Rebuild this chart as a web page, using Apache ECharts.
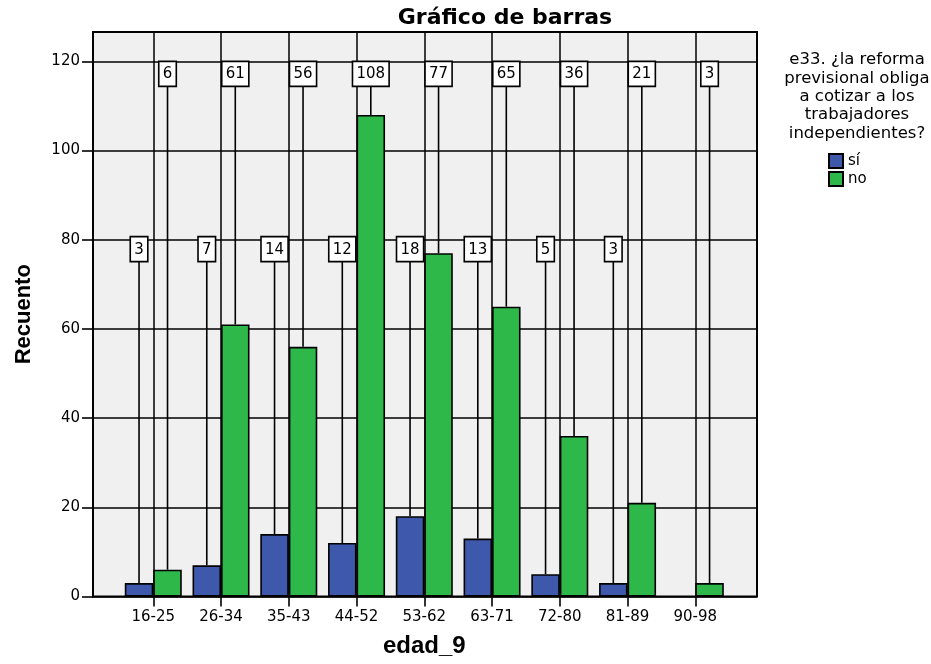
<!DOCTYPE html>
<html><head><meta charset="utf-8">
<script src="https://cdn.jsdelivr.net/npm/echarts@6/dist/echarts.min.js"></script>
<style>html,body{margin:0;padding:0;background:#fff}#c{width:931px;height:664px}</style>
</head><body><div id="c"></div>
<script>
const categories = ['16-25','26-34','35-43','44-52','53-62','63-71','72-80','81-89','90-98'];
const siValues = [3, 7, 14, 12, 18, 13, 5, 3, 0];
const noValues = [6, 61, 56, 108, 77, 65, 36, 21, 3];
const yTicks = [0, 20, 40, 60, 80, 100, 120];
const seriesNames = ['sí', 'no'];
const chartTitle = 'Gráfico de barras';
const legendTitle = 'e33. ¿la reforma\nprevisional obliga\na cotizar a los\ntrabajadores\nindependientes?';
const xName = 'edad_9';
const yName = 'Recuento';

const Y_MAX = 126.6;
const BAR_W = 28.5;
const SI_LABEL_LEVEL = 77.9;
const NO_LABEL_LEVEL = 117.2;
const LABEL_FONT = '15px "DejaVu Sans"';

const measureCtx = document.createElement('canvas').getContext('2d');
measureCtx.font = LABEL_FONT;

function labelRenderer(sign) {
  return function (params, api) {
    const idx = api.value(0), v = api.value(1), lvl = api.value(2);
    const top = api.coord([idx, v]);
    const lab = api.coord([idx, lvl]);
    const x = top[0] + sign * BAR_W / 2;
    const text = String(v);
    const w = measureCtx.measureText(text).width;
    return {
      type: 'group',
      children: [
        { type: 'line', shape: { x1: x, y1: lab[1] + 12.5, x2: x, y2: top[1] },
          style: { stroke: '#000', lineWidth: 1.6 } },
        { type: 'rect', shape: { x: x - w / 2 - 4, y: lab[1] - 12.5, width: w + 8, height: 25 },
          style: { fill: '#fff', stroke: '#000', lineWidth: 1.6 } },
        { type: 'text', style: { text: text, x: x, y: lab[1] + 0.5, align: 'center', verticalAlign: 'middle',
          font: LABEL_FONT, fill: '#000' } }
      ]
    };
  };
}

const blank = v => (v === 0 ? null : v);

const chart = echarts.init(document.getElementById('c'));
const axisFont = { fontFamily: 'DejaVu Sans', fontSize: 15, color: '#000' };
chart.setOption({
  animation: false,
  backgroundColor: '#fff',
  title: [
    { text: chartTitle, left: 500, textAlign: 'center', top: 2,
      textStyle: { fontFamily: 'DejaVu Sans', fontWeight: 'bold', fontSize: 22, color: '#000' } },
    { text: legendTitle, left: 852, textAlign: 'center', top: 46,
      textStyle: { fontFamily: 'DejaVu Sans', fontWeight: 'normal', fontSize: 16.5, lineHeight: 18.3, color: '#000' } }
  ],
  legend: {
    orient: 'vertical', left: 823, top: 148, itemWidth: 14, itemHeight: 14, itemGap: 2,
    icon: 'rect', data: seriesNames,
    textStyle: { fontFamily: 'DejaVu Sans', fontSize: 15, color: '#000' }
  },
  grid: [
    { left: 93, top: 32, width: 664, height: 564.5, show: true, backgroundColor: '#f0f0f0',
      borderColor: '#000', borderWidth: 2 },
    { left: 119.4, top: 32, width: 609.8, height: 564.5 }
  ],
  xAxis: [
    { gridIndex: 0, type: 'value', min: 0, max: 1, show: false },
    { gridIndex: 1, type: 'category', data: categories,
      axisLine: { show: false },
      axisTick: { show: true, alignWithLabel: true, length: 10, lineStyle: { color: '#000', width: 1.6 } },
      axisLabel: Object.assign({ margin: 13 }, axisFont),
      splitLine: { show: true, alignWithLabel: true, lineStyle: { color: '#000', width: 1.5 } },
      name: xName, nameLocation: 'middle', nameGap: 38,
      nameTextStyle: { fontFamily: 'Liberation Sans', fontWeight: 'bold', fontSize: 24, color: '#000' } }
  ],
  yAxis: [
    { gridIndex: 0, type: 'value', min: 0, max: Y_MAX, interval: 20,
      axisLine: { show: true, lineStyle: { color: '#000', width: 2 } },
      axisTick: { show: true, length: 11, customValues: yTicks, lineStyle: { color: '#000', width: 1.6 } },
      axisLabel: Object.assign({ margin: 13, customValues: yTicks }, axisFont),
      splitLine: { show: true, lineStyle: { color: '#000', width: 1.5 } },
      name: yName, nameLocation: 'middle', nameGap: 58,
      nameTextStyle: { fontFamily: 'Liberation Sans', fontWeight: 'bold', fontSize: 22, color: '#000' } },
    { gridIndex: 1, type: 'value', min: 0, max: Y_MAX, interval: 20, show: false }
  ],
  series: [
    { name: seriesNames[0], type: 'bar', xAxisIndex: 1, yAxisIndex: 1, data: siValues.map(blank),
      barWidth: BAR_W, barGap: '0%', z: 3,
      itemStyle: { color: '#3e58ab', borderColor: '#000', borderWidth: 1.6 } },
    { name: seriesNames[1], type: 'bar', xAxisIndex: 1, yAxisIndex: 1, data: noValues.map(blank),
      barWidth: BAR_W, barGap: '0%', z: 3,
      itemStyle: { color: '#2eb84a', borderColor: '#000', borderWidth: 1.6 } },
    { name: 'siLabels', type: 'custom', xAxisIndex: 1, yAxisIndex: 1, z: 5,
      renderItem: labelRenderer(-1), encode: { x: 0, y: 1 },
      data: siValues.map((v, i) => [i, v, SI_LABEL_LEVEL]).filter(d => d[1] > 0) },
    { name: 'noLabels', type: 'custom', xAxisIndex: 1, yAxisIndex: 1, z: 5,
      renderItem: labelRenderer(1), encode: { x: 0, y: 1 },
      data: noValues.map((v, i) => [i, v, NO_LABEL_LEVEL]).filter(d => d[1] > 0) }
  ]
});
</script></body></html>
